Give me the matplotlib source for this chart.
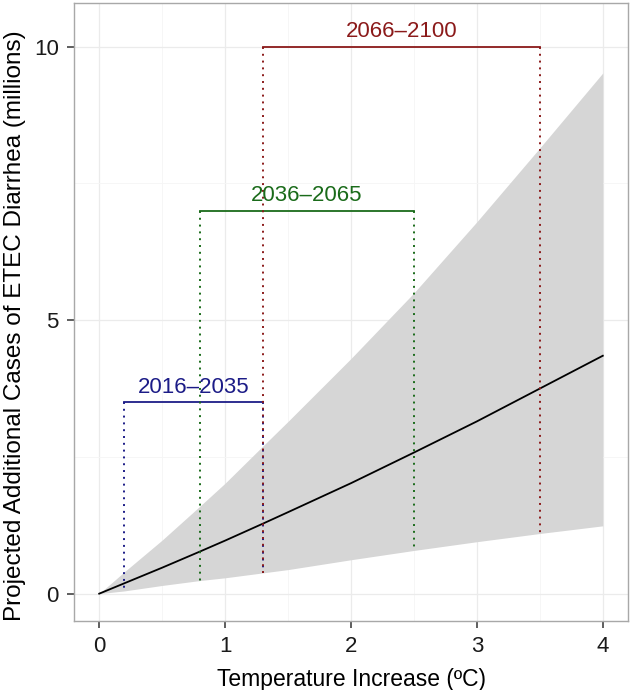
import matplotlib
matplotlib.use("Agg")
import matplotlib.pyplot as plt
from matplotlib.ticker import MultipleLocator

plt.rcParams['font.family'] = ['Liberation Sans', 'DejaVu Sans']

# central estimate and uncertainty band (millions of cases)
temp = [0.0, 0.2, 0.5, 0.8, 1.0, 1.3, 1.5, 2.0, 2.5, 3.0, 3.5, 4.0]
cases = [0.0, 0.19, 0.475, 0.77, 0.97, 1.28, 1.49, 2.02, 2.58, 3.15, 3.75, 4.35]
upper = [0.0, 0.40, 0.98, 1.60, 2.02, 2.70, 3.15, 4.30, 5.50, 6.80, 8.15, 9.52]
lower = [0.0, 0.05, 0.15, 0.24, 0.29, 0.38, 0.44, 0.62, 0.79, 0.95, 1.10, 1.24]

# time periods: temperature range and bracket height
periods = ['2016\u20132035', '2036\u20132065', '2066\u20132100']
period_lo = [0.2, 0.8, 1.3]
period_hi = [1.3, 2.5, 3.5]
period_y = [3.5, 7.0, 10.0]
period_colors = ['#1c1c87', '#1a6b1a', '#8b1a1a']


def lower_at(x):
    for i in range(len(temp) - 1):
        if temp[i] <= x <= temp[i + 1]:
            f = (x - temp[i]) / (temp[i + 1] - temp[i])
            return lower[i] + f * (lower[i + 1] - lower[i])
    return lower[-1]


fig = plt.figure(figsize=(6.36, 6.9), dpi=100)
ax = fig.add_axes([0.1164, 0.1, 0.871, 0.8957])

ax.fill_between(temp, lower, upper, color='#d6d6d6', lw=0, zorder=2)
ax.plot(temp, cases, color='black', lw=1.3, zorder=4)

for name, lo, hi, y, c in zip(periods, period_lo, period_hi, period_y, period_colors):
    ax.plot([lo, hi], [y, y], color=c, lw=1.3, zorder=5)
    for x in (lo, hi):
        ax.plot([x, x], [y, lower_at(x)], color=c, lw=1.4, ls=(0, (1, 2.5)), zorder=5)
    ax.text((lo + hi) / 2, y + 0.08, name, color=c, fontsize=16,
            ha='center', va='bottom', zorder=6)

ax.set_xlim(-0.2, 4.2)
ax.set_ylim(-0.5, 10.8)
ax.xaxis.set_major_locator(MultipleLocator(1))
ax.xaxis.set_minor_locator(MultipleLocator(0.5))
ax.yaxis.set_major_locator(MultipleLocator(5))
ax.yaxis.set_minor_locator(MultipleLocator(2.5))
ax.grid(which='major', color='#ebebeb', lw=0.9, zorder=0)
ax.grid(which='minor', color='#f5f5f5', lw=0.6, zorder=0)
ax.set_axisbelow(True)
for s in ax.spines.values():
    s.set_color('#a8a8a8')
    s.set_linewidth(1.0)
ax.tick_params(which='major', length=5, width=1.1, color='#333333',
               labelsize=16, labelcolor='#1a1a1a', pad=6)
ax.tick_params(which='minor', length=0)

ax.set_xlabel('Temperature Increase (\u00baC)', fontsize=16.5, labelpad=8)
ax.set_ylabel('Projected Additional Cases of ETEC Diarrhea (millions)', fontsize=17.5)
ax.yaxis.set_label_coords(-0.087, 0.478)

fig.savefig('out.png', dpi=100)
